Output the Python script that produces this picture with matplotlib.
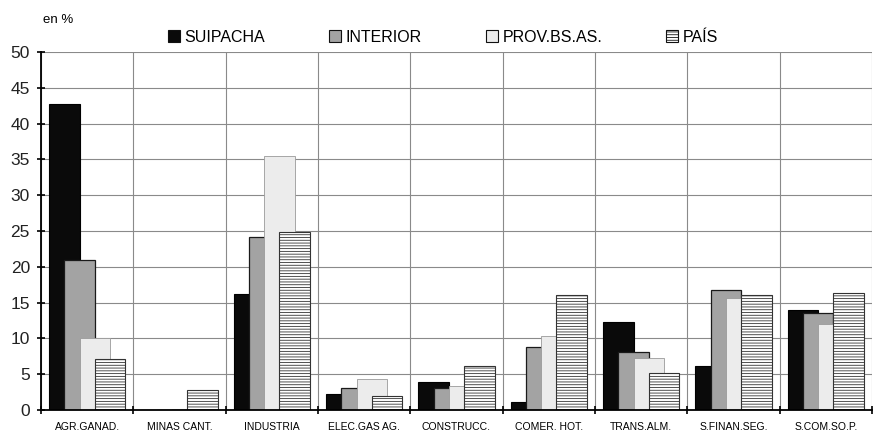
#!/usr/bin/env python3
"""Employment share by sector: Suipacha vs interior, province and country."""

import matplotlib

matplotlib.use("Agg")
import matplotlib.pyplot as plt
from matplotlib.patches import Patch


OUTPUT_PNG = "out.png"

SECTORS = [
    "AGR.GANAD.", "MINAS CANT.", "INDUSTRIA", "ELEC.GAS AG.", "CONSTRUCC.",
    "COMER. HOT.", "TRANS.ALM.", "S.FINAN.SEG.", "S.COM.SO.P.",
]
SERIES = ["SUIPACHA", "INTERIOR", "PROV.BS.AS.", "PAÍS"]

suipacha = [42.8, 0.0, 16.2, 2.2, 3.9, 1.1, 12.3, 6.1, 14.0]
interior = [20.9, 0.05, 24.2, 3.1, 3.1, 8.8, 8.1, 16.8, 13.5]
prov_bsas = [10.0, 0.2, 35.5, 4.3, 3.3, 10.3, 7.2, 15.7, 12.0]
pais = [7.1, 2.8, 24.8, 2.0, 6.2, 16.0, 5.1, 16.1, 16.3]

Y_TICKS = list(range(0, 55, 5))


def bar_styles():
    return [
        dict(color="#0a0a0a", edgecolor="#000000", linewidth=0.8),
        dict(color="#a3a3a3", edgecolor="#1a1a1a", linewidth=0.9),
        dict(color="#ececec", edgecolor="#9a9a9a", linewidth=0.6),
        dict(color="white", edgecolor="#333333", linewidth=0.8, hatch="------"),
    ]


def build_chart(out_path):
    plt.rcParams["font.family"] = ["Liberation Sans", "DejaVu Sans"]
    plt.rcParams["hatch.linewidth"] = 0.6
    plt.rcParams["hatch.color"] = "#444444"

    fig = plt.figure(figsize=(8.78, 4.33), dpi=100)
    ax = fig.add_axes([41 / 878, 23 / 433, 831 / 878, 358 / 433])

    values = [suipacha, interior, prov_bsas, pais]
    styles = bar_styles()
    width = 0.33
    step = 0.165
    centers = [i + 0.5 for i in range(len(SECTORS))]
    for k, (vals, style) in enumerate(zip(values, styles)):
        offset = (k - 1.5) * step
        xs = [c + offset for c in centers]
        ax.bar(xs, vals, width=width, zorder=3 + k, **style)

    ax.set_xlim(0, len(SECTORS))
    ax.set_ylim(0, 50)

    ax.set_xticks(range(len(SECTORS) + 1))
    ax.set_xticklabels([])
    ax.set_xticks(centers, minor=True)
    ax.set_xticklabels(SECTORS, minor=True, fontsize=7.5)
    ax.tick_params(axis="x", which="minor", length=0, pad=9)
    ax.tick_params(axis="x", which="major", direction="inout", length=6, width=1.2)

    ax.set_yticks(Y_TICKS)
    ax.tick_params(axis="y", direction="inout", length=6, width=1.2,
                   labelsize=12.5, labelcolor="#222222", pad=5)

    ax.grid(True, which="major", color="#8a8a8a", linewidth=0.8, zorder=0)
    ax.set_axisbelow(True)
    for side in ("top", "right"):
        ax.spines[side].set_visible(False)
    for side in ("left", "bottom"):
        ax.spines[side].set_linewidth(1.3)
        ax.spines[side].set_zorder(10)

    fig.text(43 / 878, 1 - 20 / 433, "en %", fontsize=9.5, va="center", ha="left")

    handles = [
        Patch(facecolor=s["color"], edgecolor="#111111", linewidth=0.8,
              hatch=s.get("hatch"))
        for s in styles
    ]
    fig.legend(handles, SERIES, loc="center", ncol=4, frameon=False,
               bbox_to_anchor=(443 / 878, 1 - 37 / 433), fontsize=11.5,
               handlelength=0.75, handleheight=0.75, handletextpad=0.3,
               columnspacing=4.0)

    fig.savefig(out_path, dpi=100)
    plt.close(fig)


def main():
    build_chart(OUTPUT_PNG)
    print(f"[OK] Wrote chart image: {OUTPUT_PNG}")
    return 0


if __name__ == "__main__":
    raise SystemExit(main())
